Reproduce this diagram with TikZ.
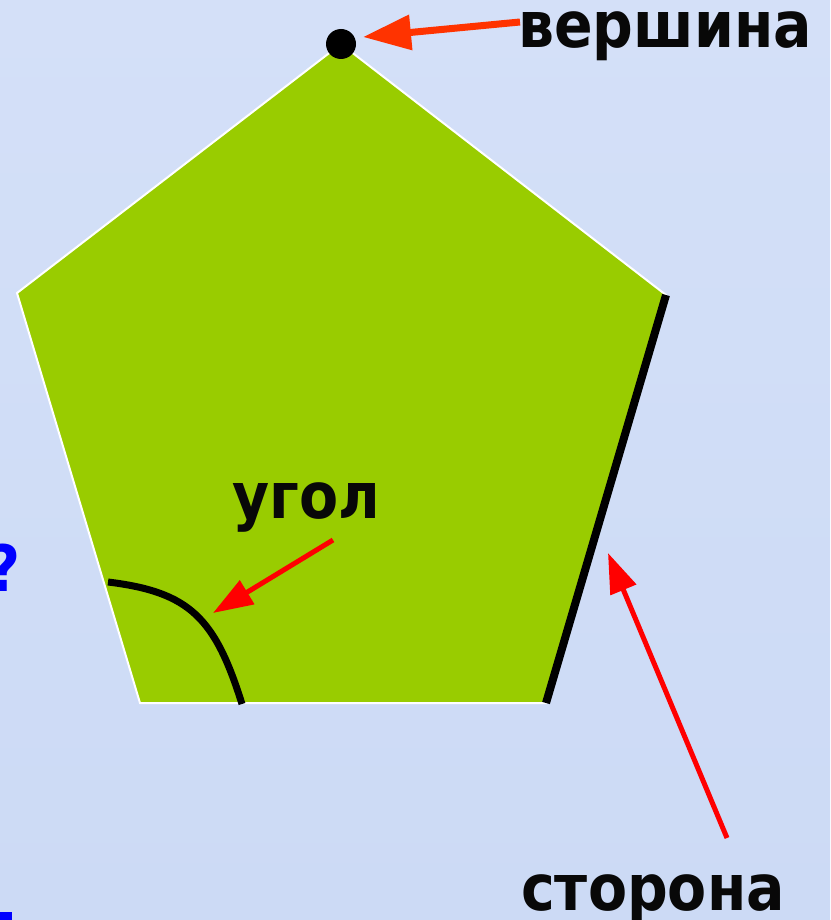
\documentclass[tikz,border=0pt]{standalone}
\usepackage{fontspec}
\setmainfont{DejaVu Sans}
\usetikzlibrary{arrows.meta}
\definecolor{bgblue}{RGB}{204,218,245}
\definecolor{bgtop}{RGB}{212,224,248}
\definecolor{pentgreen}{RGB}{153,204,0}
\definecolor{arrorange}{RGB}{255,51,0}
\definecolor{arrred}{RGB}{255,0,0}
\definecolor{qblue}{RGB}{0,0,255}
\newcommand{\narrow}[1]{\scalebox{0.89}[1]{#1}}
\tikzset{
  lbl/.style={font=\bfseries\fontsize{64}{64}\selectfont, text=black!97, inner sep=0pt, anchor=base west},
  redarrow/.style={draw=arrred, line width=5pt, -{Triangle[length=40pt,width=27pt]}},
}
\begin{document}
\begin{tikzpicture}[x=1pt,y=-1pt]
\useasboundingbox (0,0) rectangle (830,920);
\begin{scope}
\clip (0,0) rectangle (830,920);
\shade[top color=bgtop, bottom color=bgblue] (0,0) rectangle (830,920);
\fill[qblue] (0,912) rectangle (12,925);
\node[font=\bfseries\fontsize{64}{64}\selectfont, text=qblue, inner sep=0pt, anchor=base east] (q) at (21,591) {\narrow{?}};
\end{scope}
% pentagon
\coordinate (A) at (341,44);
\coordinate (B) at (666,295);
\coordinate (C) at (546,703);
\coordinate (D) at (140,703);
\coordinate (E) at (17,293);
\fill[pentgreen, draw=white, line width=2pt] (A) -- (B) -- (C) -- (D) -- (E) -- cycle;
\draw[black, line width=8pt] (B) -- (C);
% angle arc
\coordinate (a1) at (108,582);
\coordinate (a2) at (242,704);
\draw[black, line width=7pt] (a1) .. controls (190,592) and (215,618) .. (a2);
% vertex dot
\fill[black] (A) circle (15);
% labels
\node[lbl] (v) at (518,48) {\narrow{вершина}};
\node[lbl] (u) at (232,518) {\narrow{угол}};
\node[lbl] (s) at (521,910) {\narrow{сторона}};
% arrows
\coordinate (vt) at (363,37);
\coordinate (vs) at (520,22);
\draw[draw=arrorange, line width=7pt, -{Triangle[length=48pt,width=34pt]}] (vs) -- (vt);
\coordinate (us) at (333,540);
\coordinate (ut) at (213,613);
\draw[redarrow] (us) -- (ut);
\coordinate (ss) at (727,838);
\coordinate (st) at (608,553);
\draw[redarrow] (ss) -- (st);
\end{tikzpicture}
\end{document}
